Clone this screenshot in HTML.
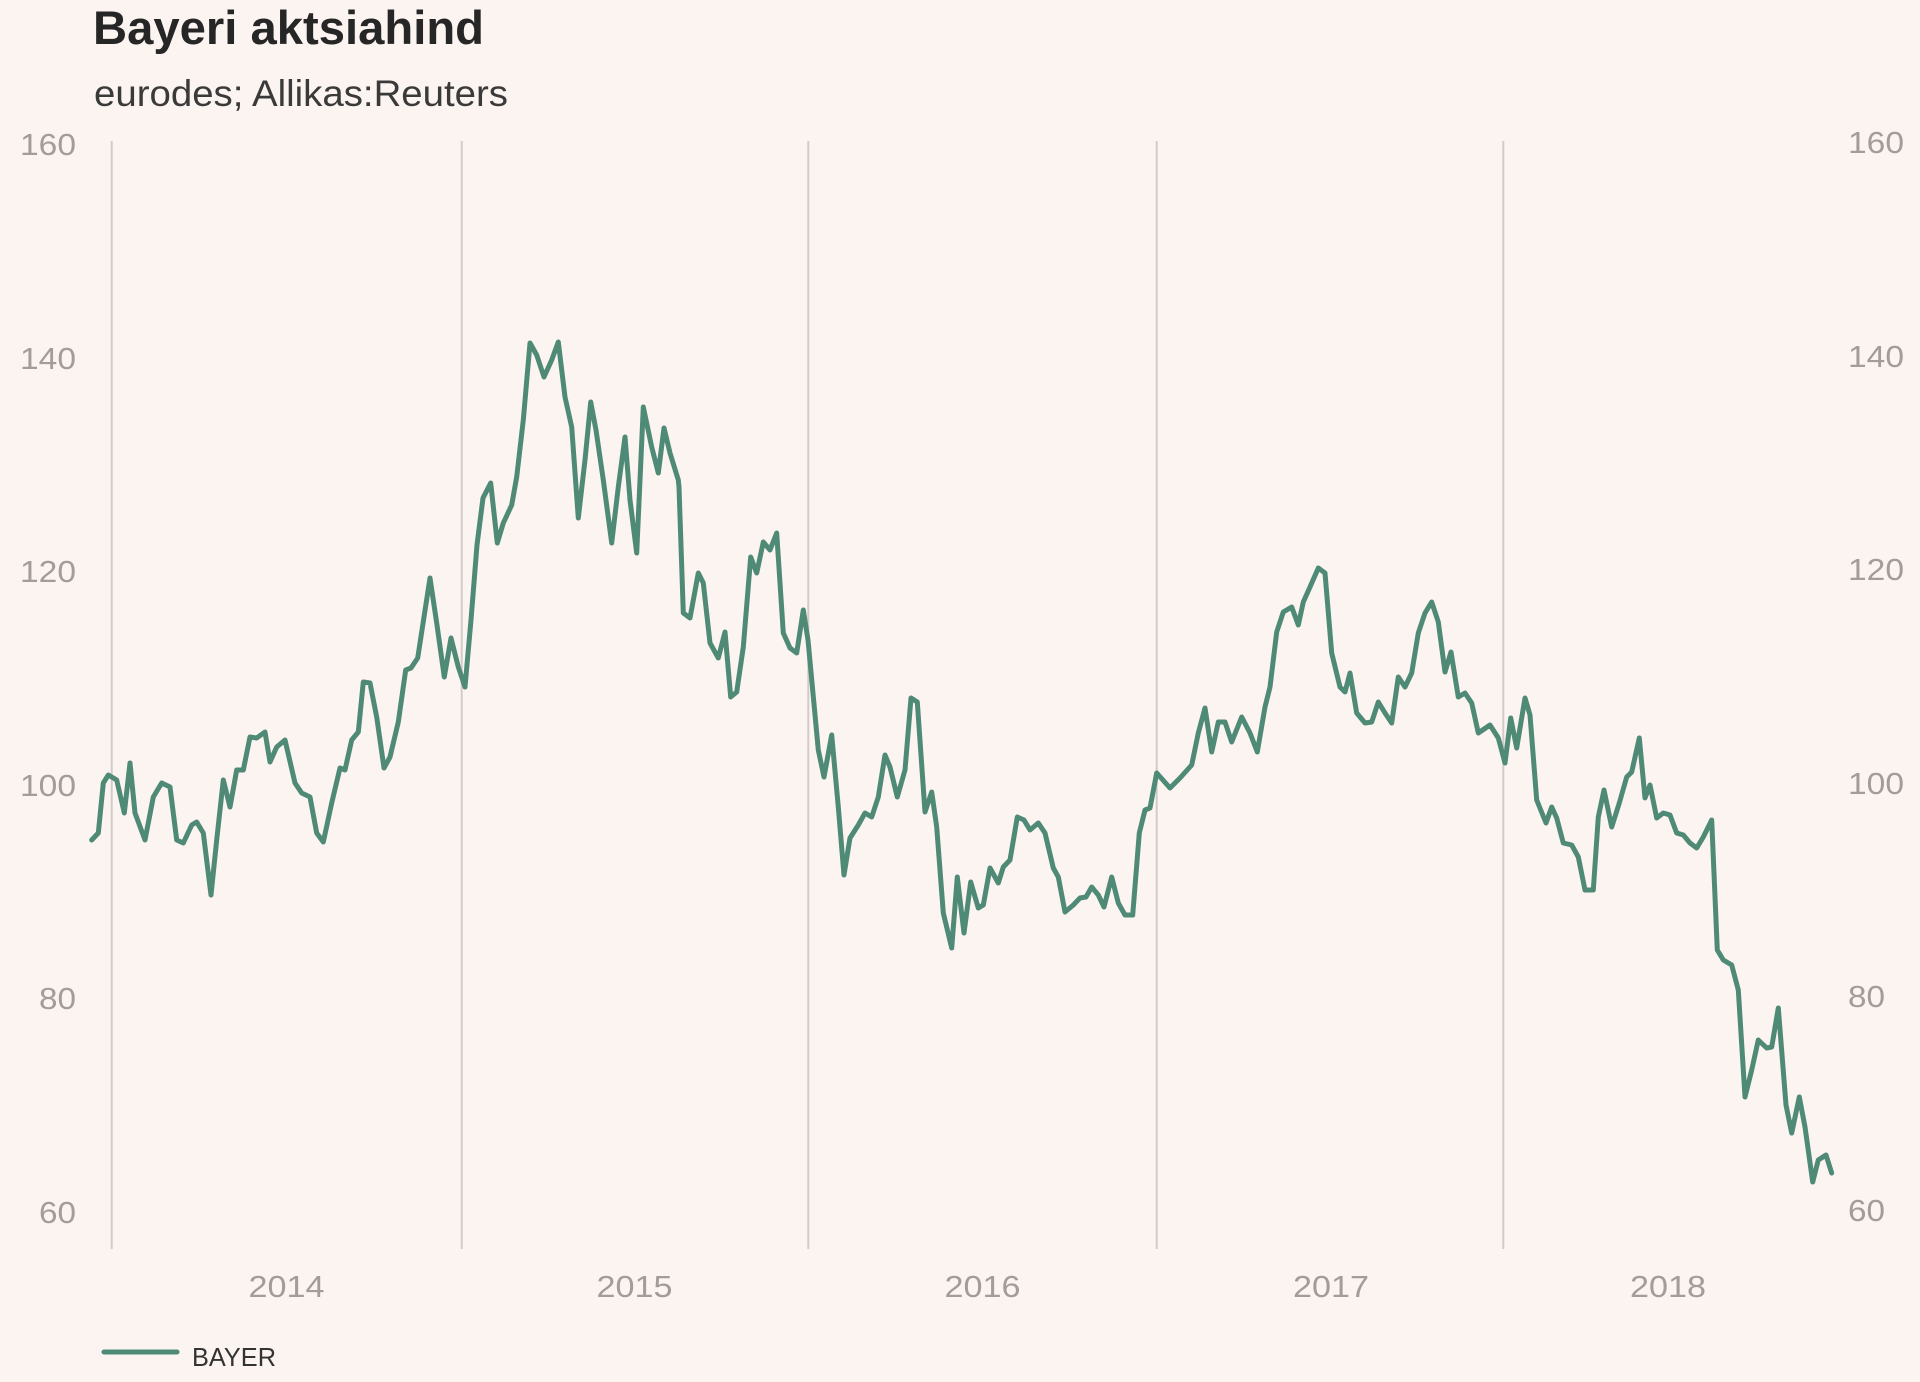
<!DOCTYPE html>
<html>
<head>
<meta charset="utf-8">
<style>
  html, body { margin: 0; padding: 0; background: #fcf4f1; }
  body { width: 1920px; height: 1382px; overflow: hidden; }
  svg { display: block; }
</style>
</head>
<body>
<svg width="1920" height="1382" viewBox="0 0 1920 1382" xmlns="http://www.w3.org/2000/svg">
  <rect x="0" y="0" width="1920" height="1382" fill="#fcf4f1"/>

  <!-- Title -->
  <text x="93" y="44" font-family="'Liberation Sans', sans-serif" font-weight="bold" font-size="47" fill="#262626" textLength="391" lengthAdjust="spacingAndGlyphs">Bayeri aktsiahind</text>
  <text x="94" y="106" font-family="'Liberation Sans', sans-serif" font-size="37" fill="#3a3a3a" textLength="414" lengthAdjust="spacingAndGlyphs">eurodes; Allikas:Reuters</text>

  <!-- Gridlines (vertical year separators) -->
  <g stroke="#d3cbc9" stroke-width="2">
    <line x1="111.7" y1="141" x2="111.7" y2="1249"/>
    <line x1="461.7" y1="141" x2="461.7" y2="1249"/>
    <line x1="808.3" y1="141" x2="808.3" y2="1249"/>
    <line x1="1156.7" y1="141" x2="1156.7" y2="1249"/>
    <line x1="1503.3" y1="141" x2="1503.3" y2="1249"/>
  </g>

  <!-- Left axis labels -->
  <g font-family="'Liberation Sans', sans-serif" font-size="31" fill="#a39c9a" text-anchor="end">
    <text x="76" y="155" textLength="56" lengthAdjust="spacingAndGlyphs">160</text>
    <text x="76" y="369" textLength="56" lengthAdjust="spacingAndGlyphs">140</text>
    <text x="76" y="582" textLength="56" lengthAdjust="spacingAndGlyphs">120</text>
    <text x="76" y="796" textLength="56" lengthAdjust="spacingAndGlyphs">100</text>
    <text x="76" y="1009" textLength="37" lengthAdjust="spacingAndGlyphs">80</text>
    <text x="76" y="1223" textLength="37" lengthAdjust="spacingAndGlyphs">60</text>
  </g>

  <!-- Right axis labels -->
  <g font-family="'Liberation Sans', sans-serif" font-size="31" fill="#a39c9a" text-anchor="start">
    <text x="1848" y="153" textLength="56" lengthAdjust="spacingAndGlyphs">160</text>
    <text x="1848" y="367" textLength="56" lengthAdjust="spacingAndGlyphs">140</text>
    <text x="1848" y="580" textLength="56" lengthAdjust="spacingAndGlyphs">120</text>
    <text x="1848" y="794" textLength="56" lengthAdjust="spacingAndGlyphs">100</text>
    <text x="1848" y="1007" textLength="37" lengthAdjust="spacingAndGlyphs">80</text>
    <text x="1848" y="1221" textLength="37" lengthAdjust="spacingAndGlyphs">60</text>
  </g>

  <!-- Year labels -->
  <g font-family="'Liberation Sans', sans-serif" font-size="31" fill="#a39c9a" text-anchor="middle">
    <text x="286.5" y="1297" textLength="76" lengthAdjust="spacingAndGlyphs">2014</text>
    <text x="634.5" y="1297" textLength="76" lengthAdjust="spacingAndGlyphs">2015</text>
    <text x="982.5" y="1297" textLength="76" lengthAdjust="spacingAndGlyphs">2016</text>
    <text x="1331" y="1297" textLength="76" lengthAdjust="spacingAndGlyphs">2017</text>
    <text x="1668" y="1297" textLength="76" lengthAdjust="spacingAndGlyphs">2018</text>
  </g>

  <!-- Series -->
  <polyline fill="none" stroke="#4f8a77" stroke-width="5" stroke-linejoin="round" stroke-linecap="round" points="
91.7,840 98.3,833 103.3,783 108.3,775 116.7,780 124.3,813 130,763 135,813 145,840 153.3,797 161.7,783 170,787 176.7,840 183.3,843 191.7,825 196.7,822 203.3,833 211,895 216.7,840 223.3,780 230,807 236.7,770 243.3,770 250,737 256.7,738 265,732 270,762 276.7,747 285,740 295,783 301.7,793 310,797 316.7,833 323.3,842 331.7,803 340,768 345,770 351.7,740 358.3,732 363.3,682 370,683 376.7,717 384,768 390,757 398.3,722 405.7,670 411,668 417.7,658 430,578 436.7,623 444.3,677 451,638 458.3,667 465,687 471,620 477,545 483,498 490.7,483 497.3,543 503.3,523 511.7,505 516.7,477 523.3,420 530,343 536.7,355 544,377 551.7,360 558.3,342 565,397 571.7,427 578.3,518 585,460 590.7,402 596,430 603.3,480 611.7,543 618.3,487 625,437 630,500 636.7,553 643.3,407 651.7,447 658.3,473 664,428 670,453 678.3,480 679,487 683.3,613 690,618 698.3,573 703.3,583 710,643 718.3,658 725,632 730.7,697 736.7,692 743.3,647 750.7,557 756.7,573 763.3,542 770,550 776.7,533 783.3,633 790,648 796.7,653 803.3,610 808,640 818.3,750 824,777 831.7,735 838.3,807 844,875 850,838 858.3,825 865,813 871.7,817 878.3,797 885,755 890,767 897.3,797 905,770 911,698 917.3,702 925,812 931.7,792 936.7,827 943.3,913 951.7,948 957.3,877 964,933 970.7,882 978.3,908 983.3,905 990,868 998.3,883 1003.3,867 1010,860 1017.3,817 1024,820 1030,830 1038.3,823 1045,833 1053.3,868 1058.3,877 1065,912 1073.3,905 1080,898 1086,897 1091.7,887 1098.3,895 1104,907 1111.7,877 1118.3,903 1125,915 1132.7,915 1139.3,833 1145,810 1150,808 1156.7,773 1170,788 1180,778 1191.7,765 1198.3,733 1205,708 1211.7,752 1218.3,722 1225,722 1231.7,742 1241.7,717 1250,733 1257.3,752 1265,707 1270,687 1276.7,632 1283.3,612 1291.7,607 1298.3,625 1303.3,602 1310,587 1318.3,568 1325,573 1331.7,653 1340,687 1345,692 1350,673 1356.7,713 1365,723 1371.7,722 1378.3,702 1385,713 1391.7,723 1398.3,677 1405,687 1411.7,673 1418.3,633 1425,613 1431.7,602 1438.3,622 1445,672 1451,652 1458.3,697 1465,693 1471.7,703 1478.3,733 1490,725 1498.3,738 1505,763 1510.7,718 1516.7,748 1525,698 1530,715 1536.7,800 1546,823 1551.7,807 1556.7,818 1563.3,843 1571.7,845 1578.3,857 1585,890 1593.3,890 1598.3,817 1604,790 1611.7,827 1619.3,803 1626.7,777 1631.7,772 1639.3,738 1645,798 1650,785 1656.7,818 1663.3,813 1670,815 1676.7,833 1683.3,835 1690,843 1696.7,848 1703.3,837 1711.7,820 1717.3,950 1723.3,960 1731.7,965 1738.3,990 1745,1097 1751.7,1070 1758.3,1040 1766.7,1048 1771.7,1047 1778.3,1008 1786,1105 1791.7,1133 1799.3,1097 1805,1127 1812.7,1182 1818.3,1160 1826,1155 1831.7,1173"/>

  <!-- Legend -->
  <line x1="104" y1="1352" x2="177" y2="1352" stroke="#4f8a77" stroke-width="5" stroke-linecap="round"/>
  <text x="192" y="1366" font-family="'Liberation Sans', sans-serif" font-size="26" fill="#333333" textLength="84" lengthAdjust="spacingAndGlyphs">BAYER</text>
</svg>
</body>
</html>
